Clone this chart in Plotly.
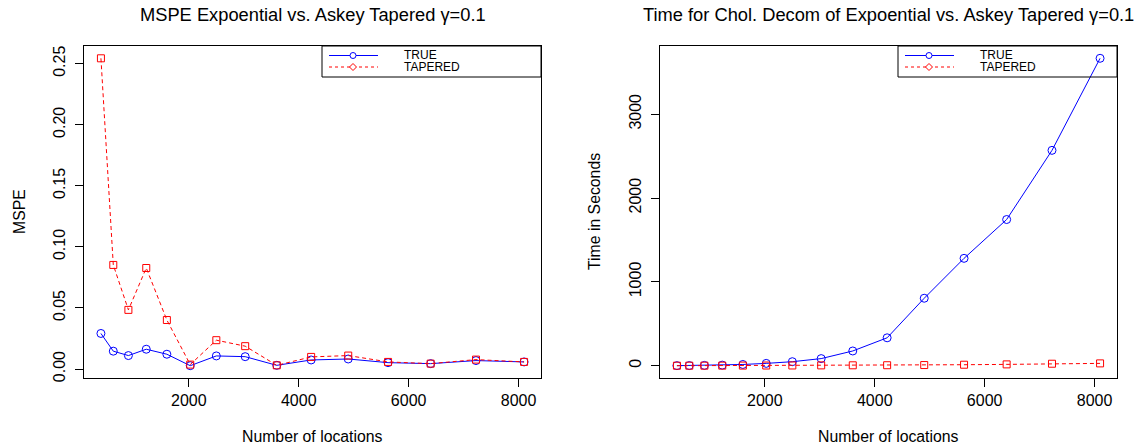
import plotly.graph_objects as go

# Number of spatial locations on each grid (15 grid sizes)
n_locations = [400, 625, 900, 1225, 1600, 2025, 2500, 3025, 3600, 4225, 4900, 5625, 6400, 7225, 8100]

# Mean squared prediction error
mspe_true = [0.0291, 0.0146, 0.0110, 0.0162, 0.0121, 0.0027, 0.0107, 0.0101, 0.0030,
             0.0074, 0.0082, 0.0052, 0.0044, 0.0069, 0.0058]
mspe_tapered = [0.2544, 0.0852, 0.0484, 0.0827, 0.0401, 0.0036, 0.0236, 0.0187, 0.0030,
                0.0099, 0.0110, 0.0058, 0.0044, 0.0077, 0.0058]

# Cholesky decomposition time (seconds)
time_true = [1, 2, 4, 7, 15, 28, 48, 85, 176, 333, 805, 1281, 1744, 2569, 3667]
time_tapered = [0.3, 0.5, 0.8, 1.2, 1.8, 2.5, 3, 4, 5, 6, 8, 12, 16, 24, 28]

x_ticks = [2000, 4000, 6000, 8000]
mspe_ticks = [0.0, 0.05, 0.10, 0.15, 0.20, 0.25]
mspe_ticklabels = ["0.00", "0.05", "0.10", "0.15", "0.20", "0.25"]
time_ticks = [0, 1000, 2000, 3000]

W, H = 1142, 446
FONT = "Liberation Sans, Arial, Helvetica, sans-serif"
BLUE, RED = "#0000FF", "#FF0000"


def fx(px):
    return px / W


def fy(py):
    return 1 - py / H


def r_range(values):
    lo, hi = min(values), max(values)
    pad = 0.04 * (hi - lo)
    return [lo - pad, hi + pad]


fig = go.Figure()

panels = [
    ("x", "y", mspe_true, mspe_tapered),
    ("x2", "y2", time_true, time_tapered),
]
for xa, ya, true_vals, tap_vals in panels:
    fig.add_trace(go.Scatter(
        x=n_locations, y=true_vals, xaxis=xa, yaxis=ya, mode="lines+markers",
        line=dict(color=BLUE, width=1),
        marker=dict(symbol="circle-open", size=8, color=BLUE, line=dict(width=1)),
        showlegend=False, name="TRUE"))
    fig.add_trace(go.Scatter(
        x=n_locations, y=tap_vals, xaxis=xa, yaxis=ya, mode="lines+markers",
        line=dict(color=RED, width=1, dash="4px,3px"),
        marker=dict(symbol="square-open", size=7, color=RED, line=dict(width=1)),
        showlegend=False, name="TAPERED"))

axis_common = dict(showline=True, mirror=True, linecolor="black", linewidth=1,
                   ticks="outside", ticklen=8, tickcolor="black", tickwidth=1,
                   showgrid=False, zeroline=False, automargin=False,
                   tickfont=dict(family=FONT, size=16, color="black"))

left_x = (84, 541)
right_x = (660, 1117)
top_y, bottom_y = 46, 378
ydom = [fy(bottom_y), fy(top_y)]

fig.update_layout(
    width=W, height=H,
    margin=dict(l=0, r=0, t=0, b=0),
    paper_bgcolor="white", plot_bgcolor="white",
    font=dict(family=FONT, color="black"),
    xaxis=dict(domain=[fx(left_x[0]), fx(left_x[1])], range=r_range(n_locations),
               tickvals=x_ticks, anchor="y", **axis_common),
    yaxis=dict(domain=ydom, range=r_range(mspe_true + mspe_tapered),
               tickvals=mspe_ticks, ticktext=mspe_ticklabels, tickangle=-90,
               ticklabelstandoff=4, anchor="x", **axis_common),
    xaxis2=dict(domain=[fx(right_x[0]), fx(right_x[1])], range=r_range(n_locations),
                tickvals=x_ticks, anchor="y2", **axis_common),
    yaxis2=dict(domain=ydom, range=r_range(time_true + time_tapered),
                tickvals=time_ticks, tickangle=-90, ticklabelstandoff=4,
                anchor="x2", **axis_common),
)

annotations = []
shapes = []

titles = [
    ("MSPE Expoential vs. Askey Tapered γ=0.1", "MSPE", left_x, 19),
    ("Time for Chol. Decom of Expoential vs. Askey Tapered γ=0.1", "Time in Seconds", right_x, 594),
]
for title, ylab, (x0, x1), ylab_x in titles:
    cx = (x0 + x1) / 2
    annotations.append(dict(text=title, x=fx(cx), y=fy(15), xref="paper", yref="paper",
                            xanchor="center", yanchor="middle", showarrow=False,
                            font=dict(family=FONT, size=18.3, color="black")))
    annotations.append(dict(text="Number of locations", x=fx(cx), y=fy(436), xref="paper",
                            yref="paper", xanchor="center", yanchor="middle", showarrow=False,
                            font=dict(family=FONT, size=15.8, color="black")))
    annotations.append(dict(text=ylab, x=fx(ylab_x), y=fy((top_y + bottom_y) / 2),
                            xref="paper", yref="paper", xanchor="center", yanchor="middle",
                            textangle=-90, showarrow=False,
                            font=dict(family=FONT, size=15.8, color="black")))

    # legend box in the top-right corner of each panel
    lx0 = x1 - 219
    shapes.append(dict(type="rect", xref="paper", yref="paper",
                       x0=fx(lx0), x1=fx(x1), y0=fy(77), y1=fy(top_y),
                       line=dict(color="black", width=1), fillcolor="rgba(0,0,0,0)"))
    r1, r2 = 55.5, 67
    shapes.append(dict(type="line", xref="paper", yref="paper",
                       x0=fx(lx0 + 7), x1=fx(lx0 + 56), y0=fy(r1), y1=fy(r1),
                       line=dict(color=BLUE, width=1)))
    shapes.append(dict(type="circle", xref="paper", yref="paper",
                       x0=fx(lx0 + 28), x1=fx(lx0 + 34), y0=fy(r1 + 3), y1=fy(r1 - 3),
                       line=dict(color=BLUE, width=1), fillcolor="white"))
    shapes.append(dict(type="line", xref="paper", yref="paper",
                       x0=fx(lx0 + 7), x1=fx(lx0 + 56), y0=fy(r2), y1=fy(r2),
                       line=dict(color=RED, width=1, dash="dot")))
    mx = lx0 + 31
    shapes.append(dict(type="path", xref="paper", yref="paper",
                       path=(f"M {fx(mx)} {fy(r2 - 3.5)} L {fx(mx + 3.5)} {fy(r2)} "
                             f"L {fx(mx)} {fy(r2 + 3.5)} L {fx(mx - 3.5)} {fy(r2)} Z"),
                       line=dict(color=RED, width=1), fillcolor="white"))
    for label, ry in (("TRUE", r1), ("TAPERED", r2)):
        annotations.append(dict(text=label, x=fx(lx0 + 80), y=fy(ry), xref="paper",
                                yref="paper", xanchor="left", yanchor="middle",
                                showarrow=False,
                                font=dict(family=FONT, size=12, color="black")))

fig.update_layout(annotations=annotations, shapes=shapes)

fig.write_html("out.html")
